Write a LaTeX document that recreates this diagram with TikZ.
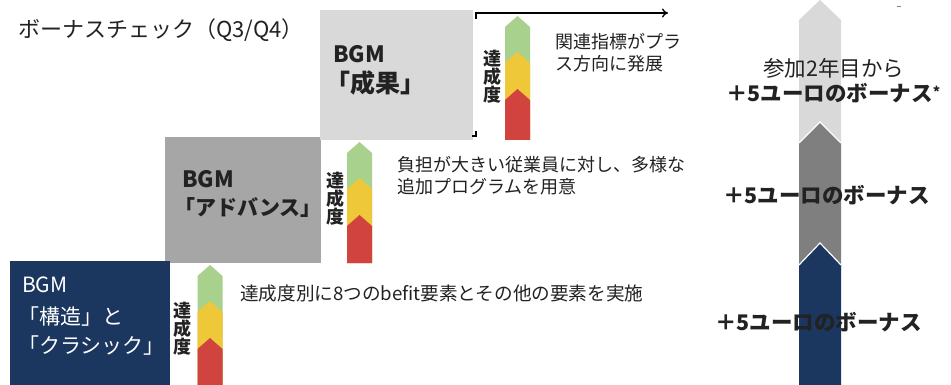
\documentclass[tikz,border=0pt]{standalone}
\usepackage{fontspec}
\setmainfont{Noto Sans CJK JP}
\usetikzlibrary{arrows.meta}
\definecolor{lgray}{HTML}{D9D9D9}
\definecolor{dgray}{HTML}{A6A6A6}
\definecolor{mgray}{HTML}{7F7F7F}
\definecolor{navy}{HTML}{1B365F}
\definecolor{pgreen}{HTML}{A9D18E}
\definecolor{pyellow}{HTML}{EFC83A}
\definecolor{pred}{HTML}{D0433F}
\definecolor{txt}{HTML}{222222}
\newcommand{\fsz}[2]{\fontsize{#1}{#2}\selectfont}
\newcommand{\pbar}[3]{%
  \fill[pgreen] (#1-12.5,#2+11) -- (#1,#2) -- (#1+12.5,#2+11) -- (#1+12.5,#3) -- (#1-12.5,#3) -- cycle;
  \fill[pyellow] (#1-12.5,#2+47) -- (#1,#2+36) -- (#1+12.5,#2+47) -- (#1+12.5,#3) -- (#1-12.5,#3) -- cycle;
  \fill[pred] (#1-12.5,#2+84) -- (#1,#2+73) -- (#1+12.5,#2+84) -- (#1+12.5,#3) -- (#1-12.5,#3) -- cycle;
}
\begin{document}
\begin{tikzpicture}[x=1pt,y=-1pt,
  box/.style={inner sep=0pt, outer sep=0pt, anchor=north west},
  lbl/.style={inner sep=0pt, anchor=west, text=txt, align=left},
  vlbl/.style={inner sep=0pt, text=txt, align=center, font=\bfseries\fsz{18}{18}},
  body/.style={lbl, font=\fsz{18}{22}},
  boxtitle/.style={lbl, font=\bfseries\fsz{22.5}{29}},
  bonus/.style={lbl, font=\bfseries\fsz{21.5}{25}}]
\useasboundingbox (0,0) rectangle (951,385);
\fill[white] (0,0) rectangle (951,385);

% title
\node[lbl, font=\fsz{22}{25}] (title) at (18,30) {ボーナスチェック（Q3/Q4）};

% boxes
\node[box, fill=dgray, minimum width=156pt, minimum height=126pt] (adv) at (165,137) {};
\node[box, fill=lgray, minimum width=153pt, minimum height=130pt] (res) at (320,10) {};
\node[box, fill=navy, minimum width=160pt, minimum height=124pt] (str) at (10,261) {};

\node[boxtitle] (resA) at (333,54) {BGM};
\node[boxtitle, font=\bfseries\fsz{25}{29}] (resB) at (325,83) {「成果」};
\node[boxtitle] (advA) at (182,179) {BGM};
\node[boxtitle, font=\bfseries\fsz{21}{29}] (advB) at (174,208) {「アドバンス」};
\node[lbl, text=white, font=\fsz{21}{25}] (strA) at (22,285) {BGM};
\node[lbl, text=white, font=\fsz{21}{25}] (strB) at (18,317) {「構造」と};
\node[lbl, text=white, font=\fsz{21}{25}] (strC) at (18,346) {「クラシック」};

% progress bars
\pbar{517.5}{16}{140}
\pbar{359.5}{142}{263}
\pbar{210}{265}{385}
\node[vlbl] (v1) at (492,77) {達\\成\\度};
\node[vlbl] (v2) at (335,199) {達\\成\\度};
\node[vlbl] (v3) at (182,329) {達\\成\\度};

% descriptions
\node[body] (d1) at (555,53) {関連指標がプラ\\ス方向に発展};
\node[body] (d2) at (397,176) {負担が大きい従業員に対し、多様な\\追加プログラムを用意};
\node[body, font=\fsz{18.6}{22}] (d3) at (240,293) {達成度別に8つのbefit要素とその他の要素を実施};

% top arrow
\coordinate (a0) at (476,19);
\coordinate (a1) at (476,13);
\coordinate (a2) at (668,13);
\draw[line width=1.3pt, -{To[length=6pt,width=9pt]}] (a0) -- (a1) -- (a2);
\coordinate (b0) at (476,131);
\coordinate (b1) at (476,136);
\coordinate (b2) at (472,136);
\draw[line width=1.3pt] (b0) -- (b1) -- (b2);
\coordinate (m0) at (897,7);
\coordinate (m1) at (901,7);
\draw[gray, line width=1pt] (m0) -- (m1);

% right arrow
\fill[lgray] (799,20) -- (820,0) -- (841,20) -- (841,150) -- (799,150) -- cycle;
\fill[mgray] (799,143) -- (820,122) -- (841,143) -- (841,270) -- (799,270) -- cycle;
\draw[white, line width=1.2pt] (799,143) -- (820,122) -- (841,143);
\fill[navy] (799,265) -- (820,243) -- (841,265) -- (841,385) -- (799,385) -- cycle;
\draw[white, line width=1.2pt] (799,265) -- (820,243) -- (841,265);

\node[lbl, font=\fsz{21.5}{25}] (r0) at (763,68) {参加2年目から};
\node[bonus] (r1) at (726,93) {＋5ユーロのボーナス\raisebox{4pt}{\fsz{14}{14}*}};
\node[bonus] (r2) at (723,195) {＋5ユーロのボーナス};
\node[bonus] (r3) at (715,322) {＋5ユーロのボーナス};
\end{tikzpicture}
\end{document}
